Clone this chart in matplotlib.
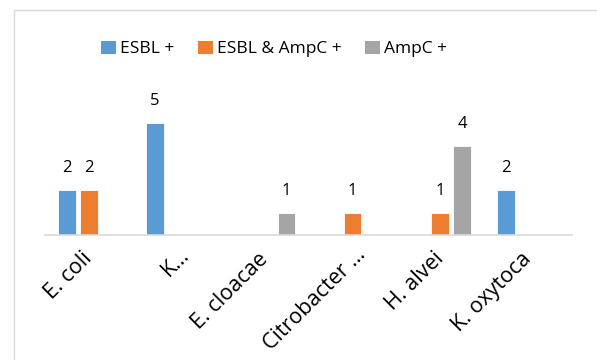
import matplotlib
matplotlib.use("Agg")
import matplotlib.pyplot as plt
from matplotlib.patches import Rectangle, Patch
from matplotlib.transforms import ScaledTranslation
import numpy as np

plt.rcParams['font.family'] = ['Open Sans', 'DejaVu Sans']

categories = ["E. coli", "K…", "E. cloacae", "Citrobacter …", "H. alvei", "K. oxytoca"]
series_names = ["ESBL +", "ESBL & AmpC +", "AmpC +"]
esbl = [2, 5, 0, 0, 0, 2]
esbl_ampc = [2, 0, 0, 1, 1, 0]
ampc = [0, 0, 1, 0, 4, 0]
colors = ["#5B9BD5", "#ED7D31", "#A5A5A5"]

W, H = 597, 360
fig = plt.figure(figsize=(W / 100, H / 100), dpi=100)

# light chart-area border
fig.patches.append(Rectangle((14 / W, -0.1), 1.2, (H - 10) / H + 0.1,
                             transform=fig.transFigure, fill=False,
                             edgecolor="#D9D9D9", linewidth=1.0))

ax = fig.add_axes([45 / W, (H - 235) / H, 527 / W, 134 / H])
x = np.arange(len(categories))
offsets = [-0.25, 0.0, 0.25]
for vals, off, col in zip([esbl, esbl_ampc, ampc], offsets, colors):
    for xi, v in zip(x, vals):
        if v:
            ax.bar(xi + off, v, width=0.2, color=col, edgecolor="white", linewidth=0.6)
            ax.annotate(str(v), (xi + off, v), xytext=(0, 13), textcoords="offset points",
                        ha="center", va="baseline", fontsize=12, color="black")

ax.set_xlim(-0.5, len(categories) - 0.5)
ax.set_ylim(0, 6)
for s in ["top", "right", "left"]:
    ax.spines[s].set_visible(False)
ax.spines["bottom"].set_color("#D9D9D9")
ax.spines["bottom"].set_linewidth(1.2)
ax.set_yticks([])
ax.set_xticks(x)
ax.set_xticklabels(categories, rotation=45, ha="right", va="center",
                   rotation_mode="anchor", fontsize=15.5)
ax.tick_params(axis="x", length=0, pad=15)
# truncated names sit a little further right
for lbl in ax.get_xticklabels():
    if lbl.get_text().endswith("…"):
        lbl.set_transform(lbl.get_transform() +
                          ScaledTranslation(10 / 100, 4 / 100, fig.dpi_scale_trans))
ax.patch.set_visible(False)

handles = [Patch(facecolor=c, edgecolor="none") for c in colors]
fig.legend(handles, series_names, loc="center", bbox_to_anchor=(274 / W, (H - 49) / H),
           ncol=3, frameon=False, fontsize=12.5, handlelength=0.85, handleheight=0.85,
           handletextpad=0.25, columnspacing=1.35)

fig.savefig("out.png", dpi=100)
